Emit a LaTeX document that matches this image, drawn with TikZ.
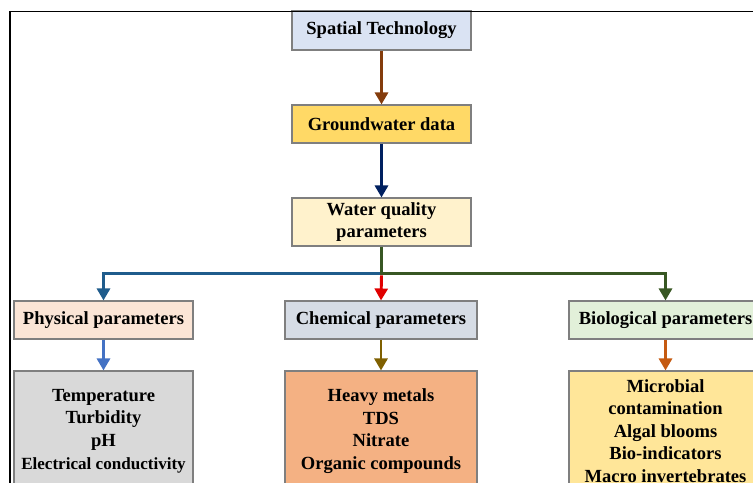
\documentclass[tikz,border=0pt]{standalone}
\usepackage{fontspec}
\setmainfont{Liberation Serif}
\usepackage{tikz}
\usetikzlibrary{arrows.meta}

\definecolor{boxline}{HTML}{7F7F7F}
\definecolor{spatialfill}{HTML}{DAE3F3}
\definecolor{gwfill}{HTML}{FFD966}
\definecolor{wqfill}{HTML}{FFF2CC}
\definecolor{physfill}{HTML}{FBE5D6}
\definecolor{chemfill}{HTML}{D6DCE5}
\definecolor{biofill}{HTML}{E2F0D9}
\definecolor{physlist}{HTML}{D9D9D9}
\definecolor{chemlist}{HTML}{F4B183}
\definecolor{biolist}{HTML}{FFE699}
\definecolor{arrbrown}{HTML}{843C0C}
\definecolor{arrnavy}{HTML}{002060}
\definecolor{arrblue}{HTML}{1F5C8C}
\definecolor{arrgreen}{HTML}{385723}
\definecolor{arrred}{HTML}{E00000}
\definecolor{arrlight}{HTML}{4472C4}
\definecolor{arrolive}{HTML}{7F6000}
\definecolor{arrorange}{HTML}{C55A11}

\tikzset{
    param box/.style={
        draw=boxline, line width=0.8pt, fill=#1,
        inner sep=0pt, align=center,
        font=\fontsize{13.9}{16.9}\selectfont\bfseries
    },
    flow arrow/.style={
        draw=#1, line width=2.2pt,
        -{Triangle[length=9pt,width=9.75pt]}
    },
}

\begin{document}
\begin{tikzpicture}[x=0.75pt,y=-0.75pt]
\useasboundingbox (0,0) rectangle (753,482);
\clip (0,0) rectangle (753,482);

% top of the chain
\node[param box=spatialfill, minimum width=134.25pt, minimum height=29.25pt] (spatial) at (381.5,30.5) {Spatial Technology};
\node[param box=gwfill, minimum width=134.25pt, minimum height=28.5pt] (gwdata) at (381.5,124) {Groundwater data};
\node[param box=wqfill, minimum width=134.25pt, minimum height=36pt] (wq) at (381.5,222) {Water quality\\parameters};

% the three groups
\node[param box=physfill, minimum width=134.25pt, minimum height=28.5pt] (phys) at (103.5,320) {Physical parameters};
\node[param box=chemfill, minimum width=144pt, minimum height=28.5pt] (chem) at (381,320) {Chemical parameters};
\node[param box=biofill, minimum width=144.75pt, minimum height=28.5pt] (bio) at (665.5,320) {Biological parameters};

% what each group contains
\node[param box=physlist, minimum width=134.25pt, minimum height=90pt] (physitems) at (103.5,431)
    {Temperature\\Turbidity\\pH\\{\fontsize{12.8}{16.9}\selectfont Electrical conductivity}};
\node[param box=chemlist, minimum width=144pt, minimum height=90pt] (chemitems) at (381,431)
    {Heavy metals\\TDS\\Nitrate\\Organic compounds};
\node[param box=biolist, minimum width=144.75pt, minimum height=90pt] (bioitems) at (665.5,431)
    {Microbial\\contamination\\Algal blooms\\Bio-indicators\\Macro invertebrates};

% arrows
\draw[flow arrow=arrbrown] (spatial.south) -- (gwdata.north);
\draw[flow arrow=arrnavy] (gwdata.south) -- (wq.north);

\coordinate (split) at (wq.south |- 0,273.3);
\draw[flow arrow=arrblue] (split) -| (phys.north);
\draw[flow arrow=arrgreen] (wq.south) -- (split) -| (bio.north);
\draw[flow arrow=arrred] ([yshift=-1.5pt]split) -- (chem.north);

\draw[flow arrow=arrlight] (phys.south) -- (physitems.north);
\draw[flow arrow=arrolive] (chem.south) -- (chemitems.north);
\draw[flow arrow=arrorange] (bio.south) -- (bioitems.north);

% frame
\draw[line width=1pt] (9.5,11.3) -- (760,11.3);
\draw[line width=1pt] (10,11.3) -- (10,490);
\end{tikzpicture}
\end{document}
